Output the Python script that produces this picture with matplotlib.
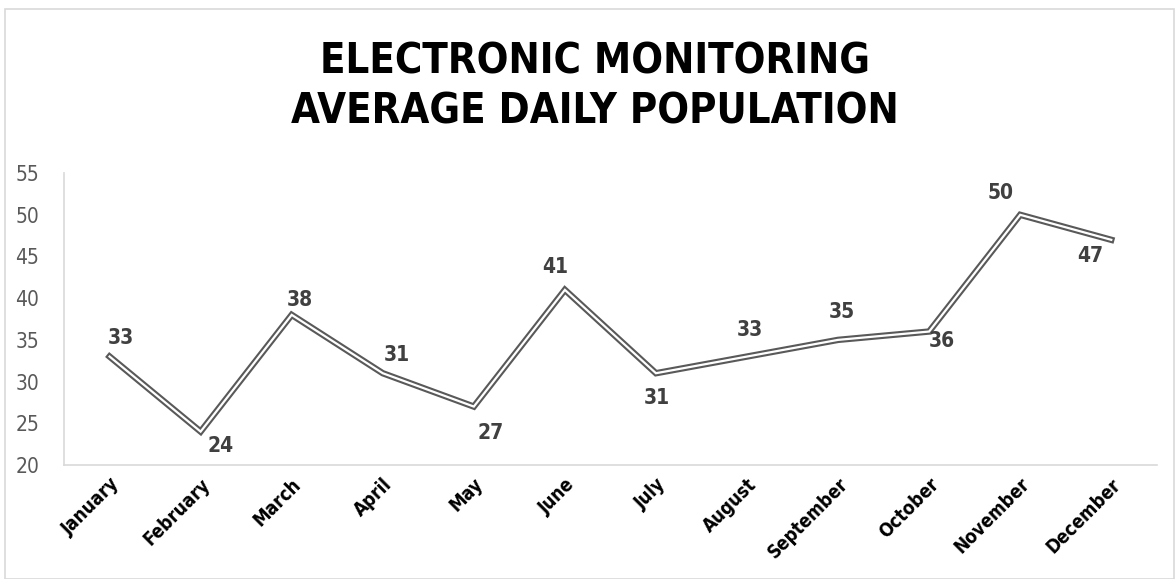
import matplotlib.pyplot as plt
from matplotlib.patches import Rectangle

months = ["January", "February", "March", "April", "May", "June",
          "July", "August", "September", "October", "November", "December"]
population = [33, 24, 38, 31, 27, 41, 31, 33, 35, 36, 50, 47]

# label offsets in pixels (dx, dy)
label_offsets = [(11, 19), (20, -14), (8, 15), (14, 18), (17, -26), (-10, 23),
                 (1, -25), (3, 27), (4, 28), (13, -9), (-20, 22), (-21, -16)]

FONT = "DejaVu Sans"
STRETCH = "condensed"

fig = plt.figure(figsize=(11.75, 5.79), dpi=100)
ax = fig.add_axes([0.0545, 0.197, 0.93, 0.504])

x = range(len(months))
ax.plot(x, population, color="#595959", lw=4.6, solid_joinstyle="miter", zorder=2)
ax.plot(x, population, color="white", lw=1.6, solid_joinstyle="miter", zorder=3)

for i, v in enumerate(population):
    dx, dy = label_offsets[i]
    ax.annotate(str(v), (i, v), xytext=(dx, dy), textcoords="offset pixels",
                ha="center", va="center", fontsize=15, fontweight="bold",
                family=FONT, stretch=STRETCH, color="#404040")

ax.set_xlim(-0.5, len(months) - 0.5)
ax.set_ylim(20, 55)
ax.set_yticks(range(20, 56, 5))
ax.set_xticks(list(x))
ax.set_xticklabels(months, rotation=45, ha="right", rotation_mode="anchor",
                   fontsize=13.5, fontweight="bold", family=FONT, stretch=STRETCH,
                   color="black")
for lab in ax.get_yticklabels():
    lab.set_family(FONT)
    lab.set_stretch(STRETCH)
    lab.set_fontsize(15)
    lab.set_color("#595959")
ax.tick_params(length=0)
ax.tick_params(axis="y", pad=18)
ax.tick_params(axis="x", pad=7)

for s in ["top", "right"]:
    ax.spines[s].set_visible(False)
for s in ["left", "bottom"]:
    ax.spines[s].set_color("#d9d9d9")
    ax.spines[s].set_linewidth(1.2)

fig.text(0.506, 0.85, "ELECTRONIC MONITORING\nAVERAGE DAILY POPULATION",
         ha="center", va="center", fontsize=30, fontweight="heavy", family=FONT,
         stretch=STRETCH, linespacing=1.25, color="black")

fig.patches.append(Rectangle((0.004, 0.0), 0.995, 0.985, transform=fig.transFigure,
                             fill=False, edgecolor="#d9d9d9", lw=1.2))

fig.savefig("out.png", dpi=100)
